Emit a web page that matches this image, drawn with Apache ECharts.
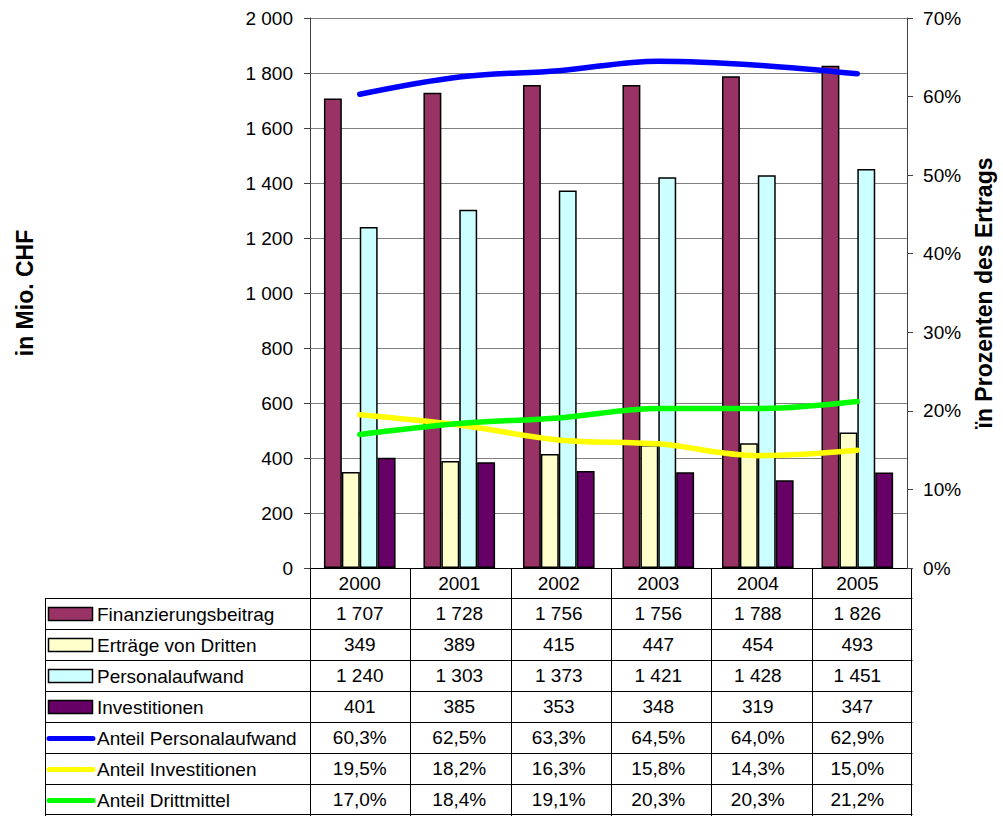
<!DOCTYPE html>
<html>
<head>
<meta charset="utf-8">
<title>Finanzierung und Aufwand 2000–2005</title>
<script src="https://cdn.jsdelivr.net/npm/echarts@6/dist/echarts.min.js"></script>
<style>
  html, body { margin: 0; padding: 0; background: #ffffff; }
  #chart { width: 1003px; height: 816px; }
</style>
</head>
<body>
<div id="chart"></div>
<script>
// Kategorien (Jahre)
const years = ['2000', '2001', '2002', '2003', '2004', '2005'];

// Beträge in Mio. CHF
const finanzierungsbeitrag = [1707, 1728, 1756, 1756, 1788, 1826];
const ertraegeVonDritten   = [349, 389, 415, 447, 454, 493];
const personalaufwand      = [1240, 1303, 1373, 1421, 1428, 1451];
const investitionen        = [401, 385, 353, 348, 319, 347];

// Anteile in Prozent des Ertrags
const anteilPersonalaufwand = [60.3, 62.5, 63.3, 64.5, 64.0, 62.9];
const anteilInvestitionen   = [19.5, 18.2, 16.3, 15.8, 14.3, 15.0];
const anteilDrittmittel     = [17.0, 18.4, 19.1, 20.3, 20.3, 21.2];

// Achsen
const leftAxisRange  = { min: 0, max: 2000, interval: 200 };
const rightAxisRange = { min: 0, max: 70, interval: 10 };

const FONT = "'Liberation Sans', Arial, sans-serif";
const FS = 19;

// Zahlenformat: Tausendertrennzeichen Leerzeichen, Dezimalkomma
function fmtAmount(v) {
  return String(Math.round(v)).replace(/\B(?=(\d{3})+(?!\d))/g, ' ');
}
function fmtPct(v) {
  return v.toFixed(1).replace('.', ',') + '%';
}

const series = [
  { name: 'Finanzierungsbeitrag', kind: 'bar', data: finanzierungsbeitrag, color: '#993366', fmt: fmtAmount },
  { name: 'Erträge von Dritten', kind: 'bar', data: ertraegeVonDritten, color: '#FFFFCC', fmt: fmtAmount },
  { name: 'Personalaufwand', kind: 'bar', data: personalaufwand, color: '#CCFFFF', fmt: fmtAmount },
  { name: 'Investitionen', kind: 'bar', data: investitionen, color: '#660066', fmt: fmtAmount },
  { name: 'Anteil Personalaufwand', kind: 'line', data: anteilPersonalaufwand, color: '#0000FF', fmt: fmtPct },
  { name: 'Anteil Investitionen', kind: 'line', data: anteilInvestitionen, color: '#FFFF00', fmt: fmtPct },
  { name: 'Anteil Drittmittel', kind: 'line', data: anteilDrittmittel, color: '#00FF00', fmt: fmtPct }
];

// Layout
const W = 1003, H = 816;
const PLOT_LEFT = 310, PLOT_RIGHT = 912, PLOT_TOP = 18, PLOT_BOTTOM = 568;
const TABLE_LEFT = 45;
const HEADER_H = 30;
const ROW_H = (H - 1 - (PLOT_BOTTOM + HEADER_H)) / series.length;

function rowCenter(i) { return PLOT_BOTTOM + HEADER_H + ROW_H * i + ROW_H / 2; }
function crisp(v) { return Math.round(v) + 0.5; }

// Zeilen der Datentabelle als zusätzliche Kategorieachsen
const tableAxes = series.map((s, i) => ({
  type: 'category',
  gridIndex: 0,
  position: 'bottom',
  data: years,
  axisLine: { show: false },
  axisTick: { show: false },
  splitLine: { show: false },
  axisLabel: {
    interval: 0,
    margin: rowCenter(i) - PLOT_BOTTOM,
    verticalAlign: 'middle',
    color: '#000',
    fontFamily: FONT,
    fontSize: FS,
    formatter: (val, idx) => s.fmt(s.data[idx])
  }
}));

// Tabellenraster und Legendenspalte
const graphics = [];
const lineStyle = { stroke: '#000', lineWidth: 1 };
const colW = (PLOT_RIGHT - PLOT_LEFT) / years.length;
for (let k = 0; k <= series.length; k++) {
  const y = crisp(PLOT_BOTTOM + HEADER_H + ROW_H * k) - (k === series.length ? 1 : 0);
  graphics.push({ type: 'line', shape: { x1: TABLE_LEFT, y1: y, x2: PLOT_RIGHT + 0.5, y2: y }, style: lineStyle, silent: true });
}
graphics.push({ type: 'line', shape: { x1: crisp(TABLE_LEFT), y1: PLOT_BOTTOM + HEADER_H, x2: crisp(TABLE_LEFT), y2: H }, style: lineStyle, silent: true });
for (let c = 0; c <= years.length; c++) {
  const x = crisp(PLOT_LEFT + colW * c) - (c === years.length ? 1 : 0);
  graphics.push({ type: 'line', shape: { x1: x, y1: PLOT_BOTTOM, x2: x, y2: H }, style: lineStyle, silent: true });
}
series.forEach((s, i) => {
  const cy = rowCenter(i);
  if (s.kind === 'bar') {
    graphics.push({ type: 'rect', shape: { x: 48.5, y: Math.round(cy - 7) + 0.5, width: 44, height: 13 },
      style: { fill: s.color, stroke: '#000', lineWidth: 1.5 }, silent: true });
  } else {
    graphics.push({ type: 'line', shape: { x1: 49, y1: cy + 1, x2: 93, y2: cy + 1 },
      style: { stroke: s.color, lineWidth: 5, lineCap: 'round' }, silent: true });
  }
  graphics.push({ type: 'text', x: 97, y: cy + 1,
    style: { text: s.name, fill: '#000', font: FS + 'px ' + FONT, textVerticalAlign: 'middle', textAlign: 'left' }, silent: true });
});

const chart = echarts.init(document.getElementById('chart'), null, { renderer: 'svg', width: W, height: H });

chart.setOption({
  animation: false,
  backgroundColor: '#ffffff',
  textStyle: { fontFamily: FONT },
  grid: { left: PLOT_LEFT, right: W - PLOT_RIGHT, top: PLOT_TOP, bottom: H - PLOT_BOTTOM, containLabel: false },
  xAxis: [
    {
      type: 'category',
      data: years,
      position: 'bottom',
      axisLine: { show: true, lineStyle: { color: '#000', width: 1 } },
      axisTick: { show: false },
      axisLabel: {
        interval: 0,
        margin: HEADER_H / 2,
        verticalAlign: 'middle',
        color: '#000',
        fontFamily: FONT,
        fontSize: FS
      }
    }
  ].concat(tableAxes),
  yAxis: [
    {
      type: 'value',
      position: 'left',
      min: leftAxisRange.min, max: leftAxisRange.max, interval: leftAxisRange.interval,
      name: 'in Mio. CHF',
      nameLocation: 'middle',
      nameGap: 274,
      nameTextStyle: { fontFamily: FONT, fontSize: 23, fontWeight: 'bold', color: '#000' },
      axisLine: { show: true, lineStyle: { color: '#404040', width: 1 } },
      axisTick: { show: true, inside: false, length: 6, lineStyle: { color: '#404040' } },
      splitLine: { show: true, lineStyle: { color: '#808080', width: 1 } },
      axisLabel: { margin: 17, color: '#000', fontFamily: FONT, fontSize: FS, formatter: v => fmtAmount(v) }
    },
    {
      type: 'value',
      position: 'right',
      min: rightAxisRange.min, max: rightAxisRange.max, interval: rightAxisRange.interval,
      name: 'ïn Prozenten des Ertrags',
      nameLocation: 'middle',
      nameGap: 64,
      nameTextStyle: { fontFamily: FONT, fontSize: 23, fontWeight: 'bold', color: '#000' },
      axisLine: { show: true, lineStyle: { color: '#404040', width: 1 } },
      axisTick: { show: true, inside: false, length: 6, lineStyle: { color: '#404040' } },
      splitLine: { show: false },
      axisLabel: { margin: 16, color: '#000', fontFamily: FONT, fontSize: FS, formatter: '{value}%' }
    }
  ],
  series: series.map(s => s.kind === 'bar' ? {
    name: s.name,
    type: 'bar',
    xAxisIndex: 0,
    yAxisIndex: 0,
    data: s.data,
    barGap: '0%',
    barCategoryGap: '28%',
    itemStyle: { color: s.color, borderColor: '#000', borderWidth: 1.5 },
    z: 2
  } : {
    name: s.name,
    type: 'line',
    xAxisIndex: 0,
    yAxisIndex: 1,
    data: s.data,
    smooth: 0.35,
    showSymbol: false,
    symbol: 'none',
    lineStyle: { color: s.color, width: 5.5, cap: 'round' },
    itemStyle: { color: s.color },
    z: 5
  }),
  graphic: graphics
});
</script>
</body>
</html>
